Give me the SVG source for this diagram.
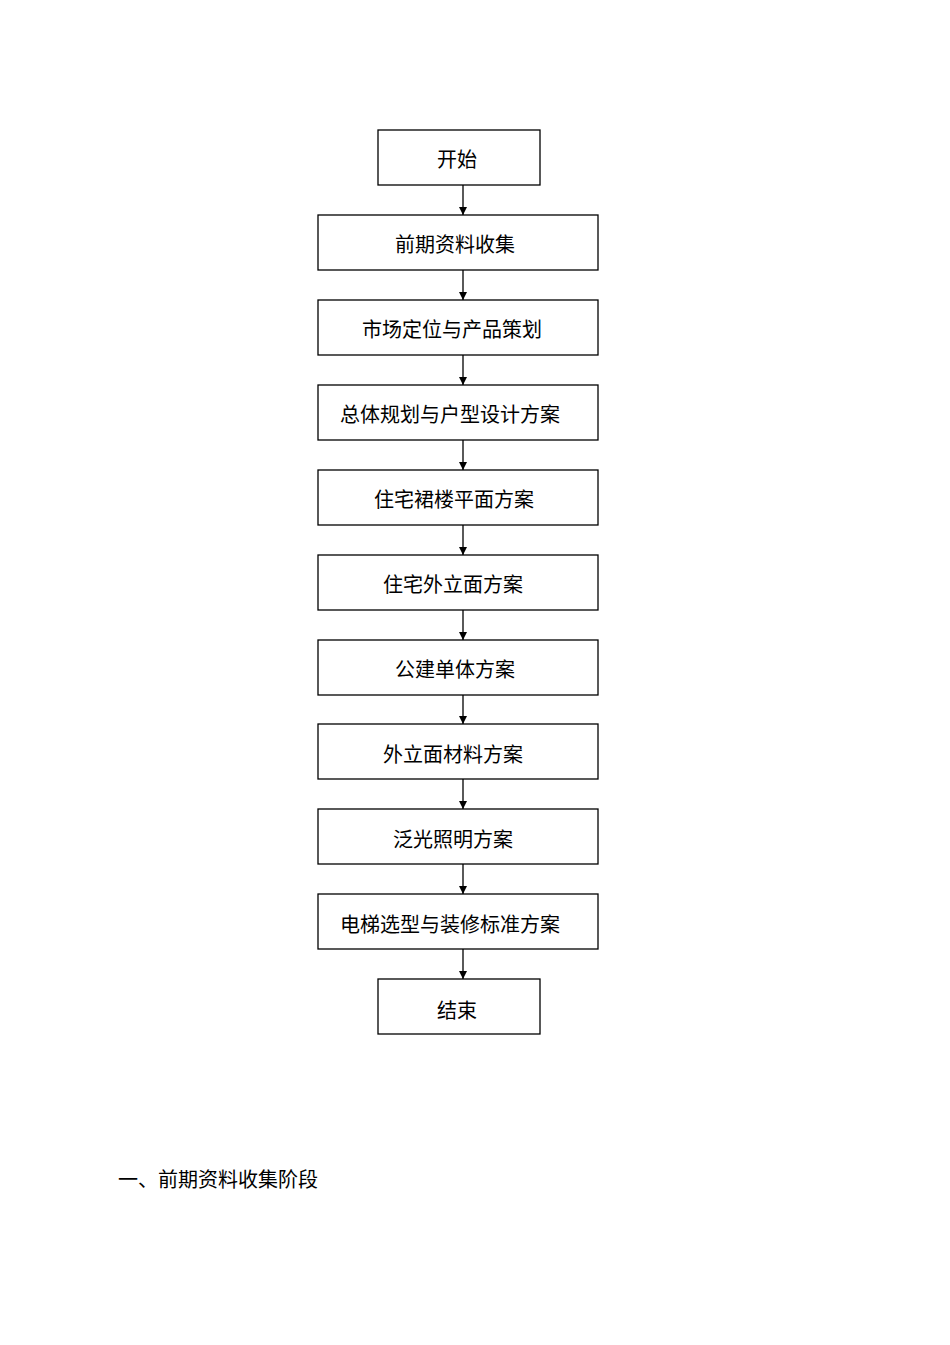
<svg xmlns="http://www.w3.org/2000/svg" width="950" height="1345" viewBox="0 0 950 1345">
<style>
.b{fill:#fff;stroke:#000;stroke-width:1.3}
text{font-family:"Liberation Sans","Noto Sans CJK SC",sans-serif;font-size:20px;fill:#000;text-anchor:middle}
.c line{stroke:#000;stroke-width:1.3}
</style>
<defs><marker id="a" markerWidth="8" markerHeight="8" refX="8" refY="4" orient="auto" markerUnits="userSpaceOnUse"><path d="M0,0L8,4L0,8z" fill="#000"/></marker></defs>
<rect width="950" height="1345" fill="#fff"/>
<g id="n0"><rect class="b" x="378" y="130" width="162" height="55"/><text x="457" y="167">开始</text></g>
<g id="n1"><rect class="b" x="318" y="215" width="280" height="55"/><text x="455" y="252">前期资料收集</text></g>
<g id="n2"><rect class="b" x="318" y="300" width="280" height="55"/><text x="452" y="337">市场定位与产品策划</text></g>
<g id="n3"><rect class="b" x="318" y="385" width="280" height="55"/><text x="450" y="422">总体规划与户型设计方案</text></g>
<g id="n4"><rect class="b" x="318" y="470" width="280" height="55"/><text x="454" y="507">住宅裙楼平面方案</text></g>
<g id="n5"><rect class="b" x="318" y="555" width="280" height="55"/><text x="453" y="592">住宅外立面方案</text></g>
<g id="n6"><rect class="b" x="318" y="640" width="280" height="55"/><text x="455" y="677">公建单体方案</text></g>
<g id="n7"><rect class="b" x="318" y="724" width="280" height="55"/><text x="453" y="762">外立面材料方案</text></g>
<g id="n8"><rect class="b" x="318" y="809" width="280" height="55"/><text x="453" y="847">泛光照明方案</text></g>
<g id="n9"><rect class="b" x="318" y="894" width="280" height="55"/><text x="450" y="932">电梯选型与装修标准方案</text></g>
<g id="n10"><rect class="b" x="378" y="979" width="162" height="55"/><text x="457" y="1018">结束</text></g>
<g class="c">
<line x1="463" y1="185" x2="463" y2="215" marker-end="url(#a)"/>
<line x1="463" y1="270" x2="463" y2="300" marker-end="url(#a)"/>
<line x1="463" y1="355" x2="463" y2="385" marker-end="url(#a)"/>
<line x1="463" y1="440" x2="463" y2="470" marker-end="url(#a)"/>
<line x1="463" y1="525" x2="463" y2="555" marker-end="url(#a)"/>
<line x1="463" y1="610" x2="463" y2="640" marker-end="url(#a)"/>
<line x1="463" y1="695" x2="463" y2="724" marker-end="url(#a)"/>
<line x1="463" y1="779" x2="463" y2="809" marker-end="url(#a)"/>
<line x1="463" y1="864" x2="463" y2="894" marker-end="url(#a)"/>
<line x1="463" y1="949" x2="463" y2="979" marker-end="url(#a)"/>
</g>
<text x="118" y="1187" style="text-anchor:start">一、前期资料收集阶段</text>
</svg>
